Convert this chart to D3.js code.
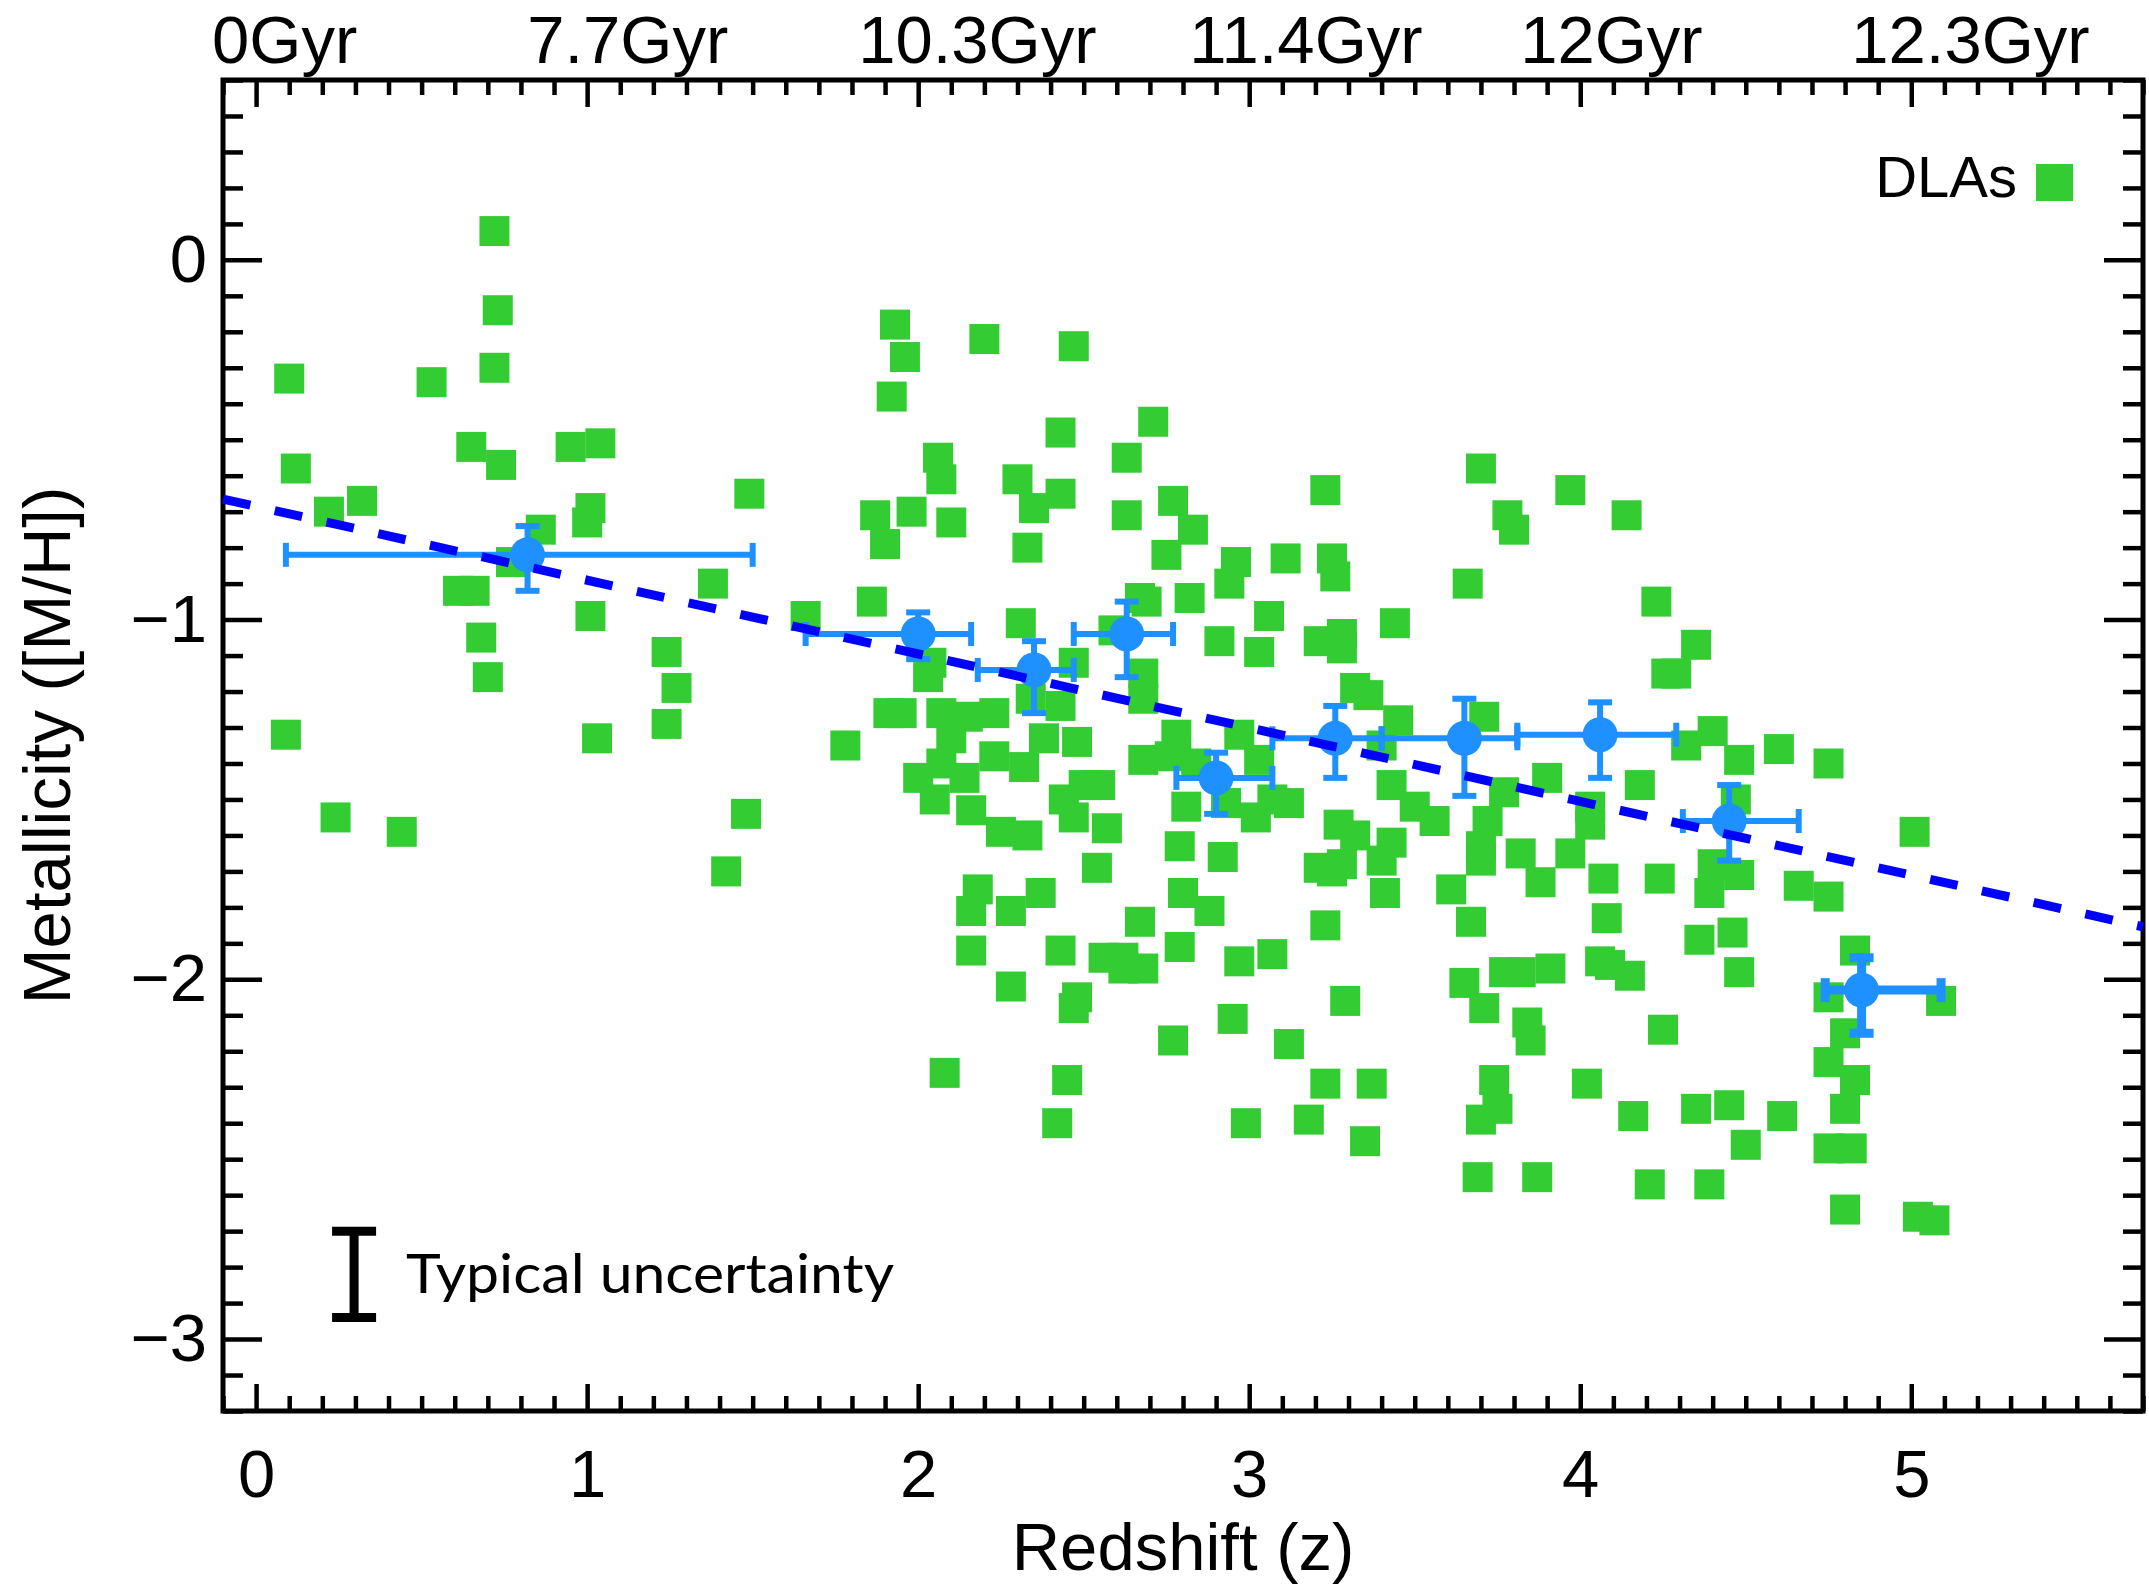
<!DOCTYPE html>
<html>
<head>
<meta charset="utf-8">
<script src="https://cdn.jsdelivr.net/npm/d3@7"></script>
<style>
body { margin: 0; background: #fff; }
text { font-family: "Liberation Sans", Arial, Helvetica, sans-serif; fill: #000; }
</style>
</head>
<body>
<script>
// DLA metallicities: [redshift, [M/H]]
var dlas = [
  [0.10,-0.33],[0.12,-0.58],[0.22,-0.70],[0.32,-0.67],[0.09,-1.32],[0.24,-1.55],[0.44,-1.59],[0.53,-0.34],
  [0.65,-0.52],[0.72,0.08],[0.73,-0.14],[0.72,-0.30],[0.74,-0.57],[0.61,-0.92],[0.66,-0.92],[0.68,-1.05],
  [0.70,-1.16],[0.77,-0.84],[0.86,-0.75],[0.95,-0.52],[1.04,-0.51],[1.01,-0.69],[1.00,-0.73],[1.01,-0.99],
  [1.03,-1.33],[1.24,-1.09],[1.27,-1.19],[1.24,-1.29],[1.38,-0.90],[1.49,-0.65],[1.48,-1.54],[1.42,-1.70],
  [1.93,-0.18],[1.96,-0.27],[1.92,-0.38],[2.20,-0.22],[2.47,-0.24],[2.43,-0.48],[2.71,-0.45],[2.06,-0.55],
  [2.07,-0.61],[2.63,-0.55],[2.30,-0.61],[2.43,-0.65],[2.35,-0.69],[1.87,-0.71],[1.98,-0.70],[2.10,-0.73],
  [1.90,-0.79],[2.33,-0.80],[2.63,-0.71],[2.77,-0.67],[2.83,-0.75],[2.75,-0.82],[3.23,-0.64],[2.96,-0.84],
  [2.94,-0.90],[3.11,-0.83],[3.25,-0.83],[3.26,-0.88],[1.86,-0.95],[1.66,-0.99],[2.67,-0.94],[2.69,-0.95],
  [2.82,-0.94],[2.31,-1.01],[3.06,-0.99],[2.91,-1.06],[3.03,-1.09],[3.21,-1.06],[3.28,-1.04],[3.28,-1.08],
  [2.59,-1.03],[2.04,-1.12],[2.03,-1.16],[2.47,-1.12],[2.68,-1.15],[2.68,-1.22],[2.34,-1.22],[2.43,-1.24],
  [3.32,-1.19],[3.36,-1.21],[1.91,-1.26],[1.95,-1.26],[2.07,-1.26],[2.15,-1.27],[2.23,-1.26],[1.78,-1.35],
  [2.10,-1.33],[2.38,-1.33],[2.48,-1.34],[2.78,-1.32],[2.97,-1.32],
  [2.00,-1.44],[2.07,-1.40],[2.14,-1.44],[2.23,-1.38],[2.32,-1.41],[2.05,-1.50],[2.16,-1.53],[2.25,-1.59],
  [2.33,-1.60],[2.44,-1.50],[2.50,-1.46],[2.55,-1.46],[2.47,-1.55],[2.57,-1.58],[2.54,-1.69],[2.68,-1.39],
  [2.76,-1.38],[2.84,-1.40],[3.03,-1.39],[2.81,-1.52],[2.93,-1.51],[3.02,-1.55],[3.07,-1.50],[3.12,-1.51],
  [2.79,-1.63],[2.92,-1.66],[2.80,-1.76],[2.88,-1.81],[3.27,-1.57],[3.32,-1.60],[3.21,-1.69],[3.28,-1.68],
  [3.25,-1.70],[2.18,-1.75],[2.16,-1.81],[2.28,-1.81],[2.37,-1.76],[2.67,-1.84],[2.79,-1.91],[2.16,-1.92],
  [2.43,-1.92],[2.56,-1.94],[2.62,-1.94],[2.62,-1.97],[2.68,-1.97],[2.97,-1.95],[3.07,-1.93],[3.23,-1.85],
  [2.28,-2.02],[2.48,-2.05],[2.47,-2.08],[2.95,-2.11],[3.29,-2.06],[2.77,-2.17],[3.12,-2.18],[2.08,-2.26],
  [2.45,-2.28],[3.23,-2.29],[3.37,-2.29],[2.42,-2.40],[2.99,-2.40],[3.18,-2.39],[3.35,-2.45],
  [3.70,-0.58],[3.97,-0.64],[3.78,-0.71],[3.80,-0.75],[4.14,-0.71],[3.66,-0.90],[4.23,-0.95],[3.44,-1.01],
  [4.35,-1.07],[4.26,-1.15],[4.29,-1.15],[3.45,-1.28],[3.71,-1.27],[4.40,-1.31],[4.32,-1.35],[4.60,-1.36],
  [3.40,-1.35],
  [3.90,-1.44],[4.48,-1.39],[4.75,-1.40],[3.43,-1.46],[3.50,-1.52],[3.56,-1.56],[3.77,-1.48],[4.18,-1.46],
  [4.03,-1.52],[4.03,-1.57],[4.47,-1.50],[3.72,-1.56],[3.43,-1.62],[3.70,-1.63],[3.70,-1.67],[3.40,-1.67],
  [3.41,-1.76],[3.82,-1.65],[3.88,-1.73],[3.97,-1.65],[4.07,-1.72],[4.24,-1.72],[4.40,-1.68],[4.48,-1.71],
  [4.39,-1.76],[4.66,-1.74],[4.75,-1.77],[5.01,-1.59],[3.61,-1.75],[3.67,-1.84],[4.08,-1.83],[4.36,-1.89],
  [4.46,-1.87],[4.83,-1.92],[4.48,-1.98],[3.65,-2.01],[3.77,-1.98],[3.82,-1.98],[3.91,-1.97],[4.06,-1.95],
  [4.09,-1.96],[4.15,-1.99],[3.71,-2.08],[3.84,-2.12],[3.85,-2.17],[4.25,-2.14],[4.75,-2.05],[5.09,-2.06],
  [4.80,-2.15],[4.75,-2.23],[4.83,-2.28],[4.80,-2.36],[4.75,-2.47],[4.82,-2.47],[4.80,-2.64],[5.02,-2.66],
  [5.07,-2.67],[3.74,-2.28],[3.75,-2.36],[3.70,-2.39],[4.02,-2.29],[4.16,-2.38],[4.35,-2.36],[4.45,-2.35],
  [4.61,-2.38],[4.50,-2.46],[3.69,-2.55],[3.87,-2.55],[4.21,-2.57],[4.39,-2.57]
];

// binned means: [z, zLow, zHigh, [M/H], [M/H] low, [M/H] high]
var bins = [
  [0.82, 0.09, 1.50, -0.82, -0.92, -0.74],
  [2.00, 1.66, 2.16, -1.04, -1.11, -0.98],
  [2.35, 2.18, 2.47, -1.14, -1.26, -1.06],
  [2.63, 2.47, 2.77, -1.04, -1.16, -0.95],
  [2.90, 2.78, 3.07, -1.44, -1.54, -1.37],
  [3.26, 3.07, 3.40, -1.33, -1.44, -1.24],
  [3.65, 3.40, 3.81, -1.33, -1.49, -1.22],
  [4.06, 3.81, 4.29, -1.32, -1.44, -1.23],
  [4.45, 4.31, 4.66, -1.56, -1.67, -1.46],
  [4.85, 4.74, 5.09, -2.03, -2.15, -1.94]
];

// linear fit, end points
var fitLine = [[-0.1, -0.665], [5.7, -1.854]];

var zTicks = [0, 1, 2, 3, 4, 5];
var mTicks = [0, -1, -2, -3];
var ageLabels = ["0Gyr", "7.7Gyr", "10.3Gyr", "11.4Gyr", "12Gyr", "12.3Gyr"];

// typical uncertainty bar: [z, centre, half-size]
var typicalErr = [0.296, -2.82, 0.12];

var W = 2149, H = 1584;
var plotL = 223, plotR = 2143, plotT = 80, plotB = 1411;

var svg = d3.select("body").append("svg")
  .attr("width", W)
  .attr("height", H);

var x = d3.scaleLinear().domain([-0.1, 5.7]).range([plotL, plotR]);
var y = d3.scaleLinear().domain([-3.2, 0.5]).range([plotB, plotT]);

function notInt(v) { return Math.abs(v - Math.round(v)) > 1e-6; }
var zMinor = d3.range(-1, 58).map(function(i) { return i / 10; }).filter(notInt);
var mMinor = d3.range(-32, 6).map(function(i) { return i / 10; }).filter(notInt);

function styleAxis(g) {
  g.select(".domain").remove();
  g.selectAll(".tick line").attr("stroke", "#000").attr("stroke-width", 4.5);
  g.selectAll(".tick text").style("font-size", "67px").attr("fill", "#000");
}

// bottom
svg.append("g").attr("transform", "translate(0," + plotB + ")")
  .call(d3.axisBottom(x).tickValues(zTicks).tickSize(-27).tickPadding(38).tickFormat(d3.format("d")))
  .call(styleAxis);
svg.append("g").attr("transform", "translate(0," + plotB + ")")
  .call(d3.axisBottom(x).tickValues(zMinor).tickSize(-15).tickFormat(""))
  .call(styleAxis);
// top
svg.append("g").attr("transform", "translate(0," + plotT + ")")
  .call(d3.axisTop(x).tickValues(zTicks).tickSize(-27).tickFormat(""))
  .call(styleAxis);
svg.append("g").attr("transform", "translate(0," + plotT + ")")
  .call(d3.axisTop(x).tickValues(zMinor).tickSize(-15).tickFormat(""))
  .call(styleAxis);
// left
svg.append("g").attr("transform", "translate(" + plotL + ",0)")
  .call(d3.axisLeft(y).tickValues(mTicks).tickSize(-39).tickPadding(16)
    .tickFormat(function(d) { return d < 0 ? "\u2212" + Math.abs(d) : d; }))
  .call(styleAxis);
svg.append("g").attr("transform", "translate(" + plotL + ",0)")
  .call(d3.axisLeft(y).tickValues(mMinor).tickSize(-20).tickFormat(""))
  .call(styleAxis);
// right
svg.append("g").attr("transform", "translate(" + plotR + ",0)")
  .call(d3.axisRight(y).tickValues(mTicks).tickSize(-39).tickFormat(""))
  .call(styleAxis);
svg.append("g").attr("transform", "translate(" + plotR + ",0)")
  .call(d3.axisRight(y).tickValues(mMinor).tickSize(-20).tickFormat(""))
  .call(styleAxis);

// age labels on top axis
svg.selectAll("text.age")
  .data(ageLabels)
  .enter()
  .append("text")
  .attr("class", "age")
  .attr("x", function(d, i) { return x(zTicks[i]) - 60 + (i === 0 ? 16 : 0); })
  .attr("y", 63)
  .style("font-size", "67px")
  .text(function(d) { return d; });

// frame
svg.append("rect")
  .attr("x", plotL).attr("y", plotT)
  .attr("width", plotR - plotL).attr("height", plotB - plotT)
  .attr("fill", "none").attr("stroke", "#000").attr("stroke-width", 5);

// DLA squares
var sq = 30;
svg.append("g").selectAll("rect")
  .data(dlas)
  .enter()
  .append("rect")
  .attr("x", function(d) { return x(d[0]) - sq / 2; })
  .attr("y", function(d) { return y(d[1]) - sq / 2; })
  .attr("width", sq)
  .attr("height", sq)
  .attr("fill", "#33cc33");

// binned means with error bars
var blue = "#1e90ff";
var bg = svg.append("g").selectAll("g")
  .data(bins)
  .enter()
  .append("g")
  .attr("stroke", blue)
  .attr("stroke-width", function(d, i) { return i === bins.length - 1 ? 9 : 6; });
var cap = 12;
bg.append("line")
  .attr("x1", function(d) { return x(d[1]); }).attr("x2", function(d) { return x(d[2]); })
  .attr("y1", function(d) { return y(d[3]); }).attr("y2", function(d) { return y(d[3]); });
bg.append("line")
  .attr("x1", function(d) { return x(d[0]); }).attr("x2", function(d) { return x(d[0]); })
  .attr("y1", function(d) { return y(d[4]); }).attr("y2", function(d) { return y(d[5]); });
[1, 2].forEach(function(k) {
  bg.append("line")
    .attr("x1", function(d) { return x(d[k]); }).attr("x2", function(d) { return x(d[k]); })
    .attr("y1", function(d) { return y(d[3]) - cap; }).attr("y2", function(d) { return y(d[3]) + cap; });
});
[4, 5].forEach(function(k) {
  bg.append("line")
    .attr("x1", function(d) { return x(d[0]) - cap; }).attr("x2", function(d) { return x(d[0]) + cap; })
    .attr("y1", function(d) { return y(d[k]); }).attr("y2", function(d) { return y(d[k]); });
});
bg.append("circle")
  .attr("cx", function(d) { return x(d[0]); })
  .attr("cy", function(d) { return y(d[3]); })
  .attr("r", 17.5)
  .attr("fill", blue)
  .attr("stroke", "none");

// fit line
svg.append("path")
  .datum(fitLine)
  .attr("d", d3.line().x(function(d) { return x(d[0]); }).y(function(d) { return y(d[1]); }))
  .attr("fill", "none")
  .attr("stroke", "#0000ff")
  .attr("stroke-width", 9)
  .attr("stroke-dasharray", "28,25");

// legend
svg.append("text")
  .attr("x", 2017).attr("y", 197)
  .attr("text-anchor", "end")
  .style("font-size", "58px")
  .text("DLAs");
svg.append("rect")
  .attr("x", 2036).attr("y", 164)
  .attr("width", 37).attr("height", 37)
  .attr("fill", "#33cc33");

// typical uncertainty
var tu = svg.append("g").attr("stroke", "#000").attr("stroke-width", 9);
var tx = x(typicalErr[0]);
tu.append("line")
  .attr("x1", tx).attr("x2", tx)
  .attr("y1", y(typicalErr[1] + typicalErr[2])).attr("y2", y(typicalErr[1] - typicalErr[2]));
[1, -1].forEach(function(s) {
  tu.append("line")
    .attr("x1", tx - 22).attr("x2", tx + 22)
    .attr("y1", y(typicalErr[1] + s * typicalErr[2])).attr("y2", y(typicalErr[1] + s * typicalErr[2]));
});
svg.append("text")
  .attr("x", 406).attr("y", 1293)
  .attr("textLength", 488)
  .attr("lengthAdjust", "spacingAndGlyphs")
  .style("font-family", "Lato, 'Open Sans', sans-serif")
  .style("font-size", "54px")
  .text("Typical uncertainty");

// axis titles
svg.append("text")
  .attr("x", (plotL + plotR) / 2).attr("y", 1570)
  .attr("text-anchor", "middle")
  .style("font-size", "67px")
  .text("Redshift (z)");
svg.append("text")
  .attr("transform", "translate(70," + ((plotT + plotB) / 2) + ") rotate(-90)")
  .attr("text-anchor", "middle")
  .style("font-size", "67px")
  .text("Metallicity ([M/H])");
</script>
</body>
</html>
